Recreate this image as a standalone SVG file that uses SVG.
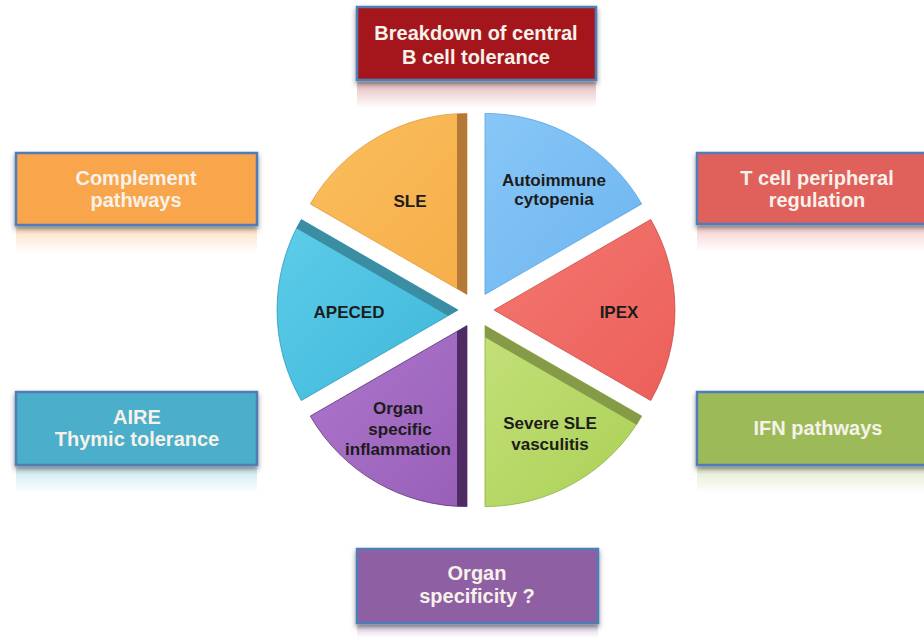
<svg xmlns="http://www.w3.org/2000/svg" width="924" height="638" viewBox="0 0 924 638">
<defs>
<style>
.bt{font-family:"Liberation Sans",Arial,sans-serif;font-weight:bold;font-size:20px;fill:#F6F2EA;text-anchor:middle}
.st{font-family:"Liberation Sans",Arial,sans-serif;font-weight:bold;font-size:17px;fill:#1c1c1c;text-anchor:middle}
.box{stroke:#4F7DB8;stroke-width:2.5;filter:url(#sh)}
.sl{stroke-width:0.8}
</style>
<filter id="sh" x="-10%" y="-20%" width="120%" height="150%">
<feDropShadow dx="0" dy="3" stdDeviation="2.5" flood-color="#333" flood-opacity="0.55"/>
</filter>
<linearGradient id="rRed" x1="0" y1="0" x2="0" y2="1"><stop offset="0" stop-color="#A5181C" stop-opacity="0.3"/><stop offset="1" stop-color="#A5181C" stop-opacity="0"/></linearGradient>
<linearGradient id="rOr" x1="0" y1="0" x2="0" y2="1"><stop offset="0" stop-color="#F9A54C" stop-opacity="0.35"/><stop offset="1" stop-color="#F9A54C" stop-opacity="0"/></linearGradient>
<linearGradient id="rCo" x1="0" y1="0" x2="0" y2="1"><stop offset="0" stop-color="#E0605B" stop-opacity="0.3"/><stop offset="1" stop-color="#E0605B" stop-opacity="0"/></linearGradient>
<linearGradient id="rCy" x1="0" y1="0" x2="0" y2="1"><stop offset="0" stop-color="#4BAECA" stop-opacity="0.3"/><stop offset="1" stop-color="#4BAECA" stop-opacity="0"/></linearGradient>
<linearGradient id="rGr" x1="0" y1="0" x2="0" y2="1"><stop offset="0" stop-color="#9CBB59" stop-opacity="0.3"/><stop offset="1" stop-color="#9CBB59" stop-opacity="0"/></linearGradient>
<linearGradient id="rPu" x1="0" y1="0" x2="0" y2="1"><stop offset="0" stop-color="#8F5FA3" stop-opacity="0.3"/><stop offset="1" stop-color="#8F5FA3" stop-opacity="0"/></linearGradient>
<linearGradient id="gSLE" x1="0" y1="0" x2="1" y2="1"><stop offset="0" stop-color="#FABE5E"/><stop offset="1" stop-color="#F6AE48"/></linearGradient>
<linearGradient id="gAut" x1="0" y1="0" x2="1" y2="1"><stop offset="0" stop-color="#88C7F7"/><stop offset="1" stop-color="#6CB4EF"/></linearGradient>
<linearGradient id="gIPX" x1="0" y1="0" x2="1" y2="1"><stop offset="0" stop-color="#F37870"/><stop offset="1" stop-color="#EC5F5A"/></linearGradient>
<linearGradient id="gSev" x1="0" y1="0" x2="1" y2="1"><stop offset="0" stop-color="#C3E078"/><stop offset="1" stop-color="#ABD056"/></linearGradient>
<linearGradient id="gOrg" x1="0" y1="0" x2="1" y2="1"><stop offset="0" stop-color="#AD77CB"/><stop offset="1" stop-color="#985FB9"/></linearGradient>
<linearGradient id="gApe" x1="0" y1="0" x2="1" y2="1"><stop offset="0" stop-color="#5DCDEA"/><stop offset="1" stop-color="#3EB6D9"/></linearGradient>
</defs>
<rect width="924" height="638" fill="#ffffff"/>

<g id="connectors"></g>

<g id="box-bcell">
<rect x="357" y="82" width="239" height="26" fill="url(#rRed)"/>
<rect class="box" x="357" y="7" width="239" height="73" fill="#A5181C"/>
<text class="bt" x="476" y="40">Breakdown of central</text>
<text class="bt" x="476" y="64">B cell tolerance</text>
</g>

<g id="box-complement">
<rect x="16" y="227" width="241" height="26" fill="url(#rOr)"/>
<rect class="box" x="16" y="153" width="241" height="72" fill="#F9A54C"/>
<text class="bt" x="136" y="185">Complement</text>
<text class="bt" x="136" y="207">pathways</text>
</g>

<g id="box-tcell">
<rect x="697" y="226" width="240" height="26" fill="url(#rCo)"/>
<rect class="box" x="697" y="153" width="240" height="71" fill="#E0605B"/>
<text class="bt" x="817" y="185">T cell peripheral</text>
<text class="bt" x="817" y="207">regulation</text>
</g>

<g id="box-aire">
<rect x="16" y="467" width="241" height="26" fill="url(#rCy)"/>
<rect class="box" x="16" y="392" width="241" height="73" fill="#4BAECA"/>
<text class="bt" x="137" y="424">AIRE</text>
<text class="bt" x="137" y="446">Thymic tolerance</text>
</g>

<g id="box-ifn">
<rect x="697" y="467" width="240" height="26" fill="url(#rGr)"/>
<rect class="box" x="697" y="392" width="240" height="73" fill="#9CBB59"/>
<text class="bt" x="818" y="435">IFN pathways</text>
</g>

<g id="box-organ">
<rect x="357" y="625" width="241" height="13" fill="url(#rPu)"/>
<rect class="box" x="357" y="549" width="241" height="74" fill="#8F5FA3"/>
<text class="bt" x="477" y="580">Organ</text>
<text class="bt" x="477" y="603">specificity ?</text>
</g>

<g id="slice-sle">
<path class="sl" d="M467,294.4 L467,113.4 A181,181 0 0 0 310.3,203.9 Z" fill="url(#gSLE)" stroke="#DE9A3C"/>
<polygon points="457,114 467,113.4 467,294.4 457,288.6" fill="#B27A36"/>
<text class="st" x="410" y="207">SLE</text>
</g>

<g id="slice-autoimmune">
<path class="sl" d="M485,294.4 L485,113.4 A181,181 0 0 1 641.7,203.9 Z" fill="url(#gAut)" stroke="#5AA2DE"/>
<text class="st" x="554" y="186">Autoimmune</text>
<text class="st" x="554" y="205">cytopenia</text>
</g>

<g id="slice-ipex">
<path class="sl" d="M494,310 L650.7,219.5 A181,181 0 0 1 650.7,400.5 Z" fill="url(#gIPX)" stroke="#C94A45"/>
<text class="st" x="619" y="318">IPEX</text>
</g>

<g id="slice-severe">
<path class="sl" d="M485,325.6 L641.7,416.1 A181,181 0 0 1 485,506.6 Z" fill="url(#gSev)" stroke="#8DAE42"/>
<polygon points="485,325.6 641.7,416.1 636.7,424.8 485,337.2" fill="#869B47"/>
<text class="st" x="550" y="429">Severe SLE</text>
<text class="st" x="550" y="450">vasculitis</text>
</g>

<g id="slice-organ">
<path class="sl" d="M467,325.6 L467,506.6 A181,181 0 0 1 310.3,416.1 Z" fill="url(#gOrg)" stroke="#5E3577"/>
<polygon points="457,331.4 467,325.6 467,506.6 457,506.3" fill="#4E2C63"/>
<text class="st" x="398" y="414">Organ</text>
<text class="st" x="400" y="435">specific</text>
<text class="st" x="398" y="455">inflammation</text>
</g>

<g id="slice-apeced">
<path class="sl" d="M458,310 L301.3,219.5 A181,181 0 0 0 301.3,400.5 Z" fill="url(#gApe)" stroke="#2F98B8"/>
<polygon points="458,310 301.3,219.5 296.3,228.2 448,315.8" fill="#3A8DA2"/>
<text class="st" x="349" y="318">APECED</text>
</g>
</svg>
